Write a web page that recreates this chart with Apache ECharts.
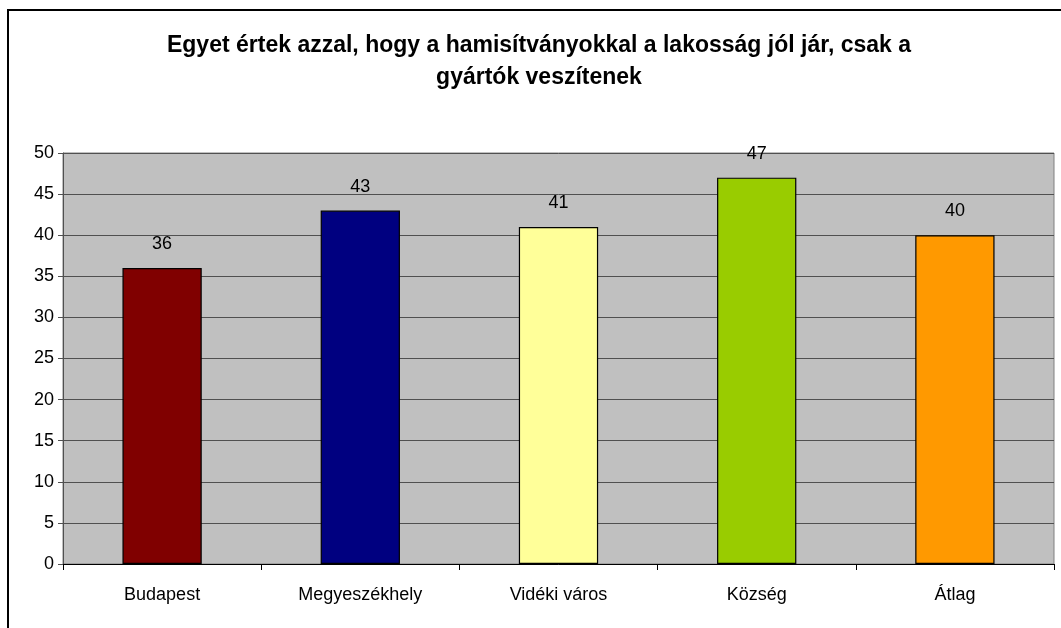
<!DOCTYPE html>
<html>
<head>
<meta charset="utf-8">
<script src="https://cdn.jsdelivr.net/npm/echarts@6/dist/echarts.min.js"></script>
<style>
  html, body { margin: 0; padding: 0; background: #fff; }
  #chart { width: 1061px; height: 628px; }
</style>
</head>
<body>
<div id="chart"></div>
<script>
  // adatok
  var categories = ['Budapest', 'Megyeszékhely', 'Vidéki város', 'Község', 'Átlag'];
  var values = [36, 43, 41, 47, 40];
  var barColors = ['#800000', '#000080', '#FFFF99', '#99CC00', '#FF9900'];
  var yTicks = { min: 0, max: 50, step: 5 };
  var chartTitle = 'Egyet értek azzal, hogy a hamisítványokkal a lakosság jól jár, csak a\ngyártók veszítenek';

  var font = 'Arial, "Liberation Sans", sans-serif';
  var myChart = echarts.init(document.getElementById('chart'));

  var option = {
    backgroundColor: '#ffffff',
    animation: false,
    graphic: [{
      type: 'rect',
      shape: { x: 8, y: 10, width: 1100, height: 700 },
      style: { fill: 'none', stroke: '#000', lineWidth: 2 },
      silent: true
    }, {
      // cím – kicsit jobbra a közép, mint az eredetin
      type: 'text',
      x: 539,
      y: 30,
      style: {
        text: chartTitle,
        align: 'center',
        verticalAlign: 'top',
        fontFamily: font,
        fontSize: 23,
        fontWeight: 'bold',
        fill: '#000',
        lineHeight: 32
      },
      silent: true
    }],
    grid: {
      left: 63,
      top: 153,
      right: 7,
      bottom: 64,
      show: true,
      backgroundColor: '#C0C0C0',
      borderColor: '#808080',
      borderWidth: 1
    },
    xAxis: {
      type: 'category',
      data: categories,
      axisLine: { lineStyle: { color: '#000', width: 1 } },
      axisTick: { show: true, length: 6, alignWithLabel: false, lineStyle: { color: '#000' } },
      axisLabel: { fontFamily: font, fontSize: 18, color: '#000', margin: 22 }
    },
    yAxis: {
      type: 'value',
      min: yTicks.min,
      max: yTicks.max,
      interval: yTicks.step,
      axisLine: { show: true, lineStyle: { color: '#505050' } },
      axisTick: { show: true, length: 5, lineStyle: { color: '#505050' } },
      axisLabel: { fontFamily: font, fontSize: 18, color: '#000', margin: 9 },
      splitLine: { show: true, lineStyle: { color: '#505050', width: 1 } }
    },
    series: [{
      type: 'bar',
      barWidth: '40%',
      data: values.map(function (v, i) {
        return { value: v, itemStyle: { color: barColors[i] } };
      }),
      itemStyle: { borderColor: '#000', borderWidth: 1.2 },
      label: {
        show: true,
        position: 'top',
        distance: 15,
        fontFamily: font,
        fontSize: 18,
        color: '#000'
      }
    }]
  };

  myChart.setOption(option);
</script>
</body>
</html>
